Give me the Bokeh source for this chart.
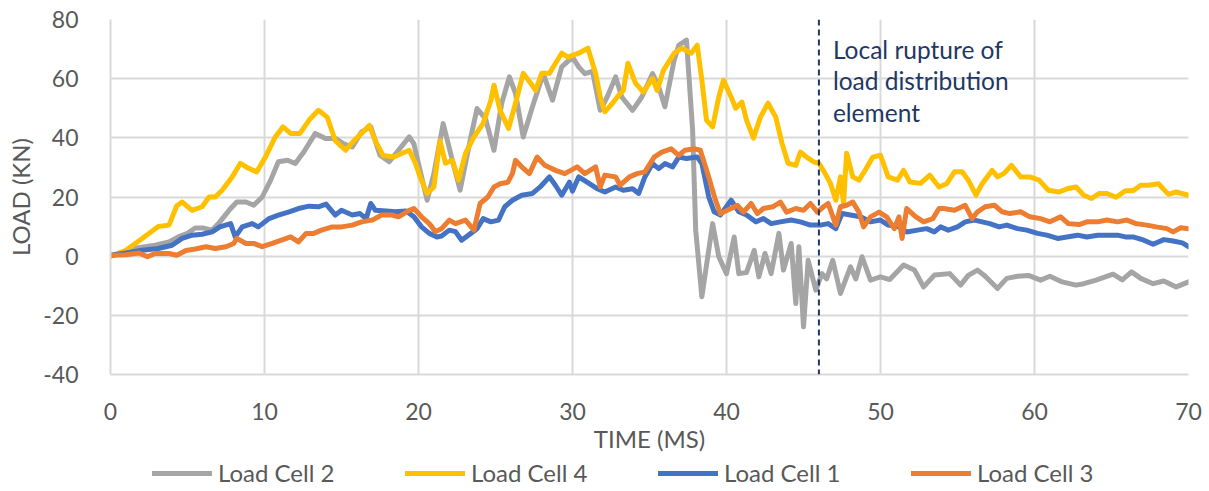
from bokeh.plotting import figure
from bokeh.layouts import column
from bokeh.models import Span, Label, Legend, LegendItem, FixedTicker, Range1d
from bokeh.embed import file_html
from bokeh.resources import INLINE

# ---------------- data ----------------
X_TICKS = [0, 10, 20, 30, 40, 50, 60, 70]
Y_TICKS = [-40, -20, 0, 20, 40, 60, 80]
Y_TICK_TEXT = {-40: "-40", -20: "-20"}
X_LABEL = "TIME (MS)"
Y_LABEL = "LOAD (KN)"
RUPTURE_T = 46.0
RUPTURE_TEXT = "Local rupture of\nload distribution\nelement"

# Load Cell 2 (grey)
T2 = [0, 0.8, 1.6, 2.9, 3.8, 4.4, 5.0, 5.5, 6.05, 6.6,
      7.1, 7.7, 8.2, 8.8, 9.3, 9.85, 10.4, 10.9, 11.5, 12.0,
      12.55, 13.3, 13.96, 14.6, 15.15, 15.7, 16.3, 16.9, 17.5, 18.1,
      18.7, 19.4, 19.7, 20.1, 20.56, 21.0, 21.6, 22.2, 22.7, 23.4,
      23.8, 24.35, 24.9, 25.4, 25.9, 26.3, 26.8, 27.4, 28.1, 28.7,
      29.3, 30.0, 30.4, 30.8, 31.3, 31.8, 32.25, 32.8, 33.2, 33.9,
      34.5, 35.2, 35.6, 36.0, 36.6, 36.9, 37.4, 37.8, 38.0, 38.4,
      39.1, 39.5, 40.0, 40.5, 40.8, 41.3, 41.8, 42.1, 42.5, 42.9,
      43.4, 43.7, 44.2, 44.5, 44.7, 45.0, 45.3, 45.8, 46.2, 46.5,
      46.9, 47.4, 48.05, 48.4, 48.8, 49.35, 50.0, 50.6, 51.5, 52.2,
      52.8, 53.5, 54.5, 55.2, 55.7, 56.3, 56.8, 57.6, 58.2, 58.9,
      59.6, 60.4, 61.0, 61.8, 62.7, 63.2, 64.0, 65.1, 65.7, 66.3,
      66.9, 67.7, 68.4, 69.2, 70.0]
V2 = [0, 1.2, 2.7, 3.7, 4.8, 6.5, 7.7, 9.5, 9.5, 8.8,
      11.6, 15.5, 18.3, 18.3, 17.2, 20.0, 25.7, 31.9, 32.4, 31.3,
      35.2, 41.5, 39.8, 39.8, 38.0, 36.9, 42.0, 43.7, 34.1, 31.9,
      35.8, 40.3, 38.0, 29.0, 18.9, 27.9, 44.8, 32.4, 22.3, 40.3,
      49.9, 46.5, 35.8, 51.6, 60.6, 55.0, 40.3, 50.5, 61.7, 52.7,
      64.0, 67.3, 64.0, 61.7, 62.5, 49.3, 53.8, 60.6, 53.8, 49.3,
      53.8, 61.7, 57.2, 50.5, 66.2, 71.3, 73.0, 42.6, 8.8, -13.7,
      11.0, -0.2, -5.9, 6.5, -5.9, -5.5, 2.0, -7.0, 0.9, -5.9,
      7.7, -4.7, 4.3, -16.0, 3.2, -23.9, -1.4, -11.5, -5.9, -7.7,
      -1.4, -12.6, -3.6, -7.7, -0.2, -8.1, -7.0, -7.9, -3.0, -4.7,
      -10.4, -6.4, -5.9, -9.8, -6.5, -4.7, -6.8, -10.9, -7.5, -6.8,
      -6.5, -8.1, -6.8, -8.7, -9.8, -9.3, -8.1, -6.1, -8.0, -5.3,
      -7.5, -9.3, -8.4, -10.4, -8.7]

# Load Cell 4 (yellow)
T4 = [0, 1.0, 2.06, 3.1, 3.8, 4.3, 4.65, 5.3, 5.95, 6.4,
      6.8, 7.25, 7.9, 8.44, 8.97, 9.5, 10.06, 10.7, 11.2, 11.7,
      12.3, 12.9, 13.5, 14.07, 14.6, 15.26, 15.8, 16.3, 16.8, 17.2,
      17.7, 18.4, 18.9, 19.4, 19.8, 20.1, 20.56, 21.0, 21.4, 21.75,
      22.2, 22.6, 23.05, 23.6, 24.2, 24.7, 24.9, 25.3, 25.85, 26.3,
      26.8, 27.3, 27.6, 28.0, 28.5, 28.9, 29.3, 29.7, 30.4, 31.0,
      31.5, 31.8, 32.1, 32.6, 33.0, 33.3, 33.6, 34.1, 34.6, 35.2,
      35.5, 35.9, 36.6, 37.1, 37.7, 38.1, 38.4, 38.7, 39.1, 39.5,
      39.8, 40.3, 40.6, 41.0, 41.3, 41.75, 42.2, 42.7, 43.2, 43.6,
      44.0, 44.5, 44.8, 45.2, 45.65, 46.0, 46.4, 46.75, 47.1, 47.4,
      47.6, 47.8, 48.2, 48.6, 49.0, 49.5, 50.0, 50.5, 51.1, 51.5,
      51.9, 52.6, 53.2, 53.8, 54.3, 54.8, 55.3, 55.7, 56.2, 56.6,
      57.25, 57.6, 58.0, 58.5, 59.1, 59.7, 60.3, 60.9, 61.6, 62.2,
      62.7, 63.2, 63.7, 64.2, 64.7, 65.3, 65.9, 66.4, 66.9, 67.4,
      68.05, 68.7, 69.2, 70.0]
V4 = [0, 2.0, 6.0, 10.0, 10.5, 17.0, 18.3, 15.5, 16.7, 20.0,
      20.0, 22.3, 26.8, 31.4, 29.7, 28.5, 33.5, 40.3, 43.7, 41.5,
      41.5, 46.0, 49.3, 47.0, 39.0, 35.8, 39.0, 41.5, 44.2, 39.0,
      34.0, 33.5, 34.7, 35.8, 31.4, 26.8, 21.2, 23.4, 39.0, 31.4,
      32.4, 25.7, 34.7, 40.3, 44.9, 52.7, 57.8, 49.3, 43.2, 51.7,
      61.8, 58.4, 56.0, 61.8, 61.8, 65.2, 68.6, 67.3, 68.6, 70.3,
      61.8, 53.8, 48.8, 51.7, 54.4, 56.0, 65.2, 58.4, 55.5, 60.1,
      56.0, 62.8, 68.6, 70.3, 68.6, 71.3, 59.5, 46.0, 43.7, 53.8,
      59.5, 53.8, 50.0, 52.1, 46.0, 39.9, 47.0, 51.7, 47.0, 38.2,
      31.4, 30.7, 35.2, 33.5, 31.9, 31.4, 28.0, 24.6, 18.9, 26.8,
      17.9, 34.8, 26.8, 25.7, 29.0, 33.5, 34.1, 26.8, 25.7, 29.0,
      25.1, 24.6, 27.4, 23.4, 24.5, 28.5, 28.5, 25.7, 20.6, 24.5,
      29.0, 26.8, 27.9, 30.7, 26.8, 26.8, 25.7, 22.3, 21.7, 22.9,
      23.4, 20.6, 19.5, 21.2, 21.2, 19.9, 22.1, 22.1, 24.0, 24.0,
      24.5, 20.9, 21.7, 20.6]

# Load Cell 1 (blue)
T1 = [0, 1.0, 2.06, 3.1, 4.0, 4.65, 5.3, 5.95, 6.6, 7.1,
      7.8, 8.1, 8.55, 9.2, 9.6, 10.3, 10.9, 11.6, 12.2, 12.9,
      13.5, 14.0, 14.6, 15.0, 15.7, 16.2, 16.6, 16.9, 17.2, 17.9,
      18.5, 19.2, 19.7, 20.2, 20.7, 21.2, 21.5, 22.0, 22.4, 22.8,
      23.4, 23.8, 24.2, 24.7, 25.2, 25.6, 26.1, 26.7, 27.4, 27.9,
      28.5, 28.9, 29.3, 29.8, 30.0, 30.4, 31.1, 31.6, 32.1, 32.8,
      33.3, 33.9, 34.3, 34.7, 35.2, 35.6, 36.0, 36.5, 36.9, 37.4,
      38.1, 38.4, 38.85, 39.2, 39.6, 40.3, 40.8, 41.3, 41.9, 42.4,
      42.9, 43.5, 44.2, 44.8, 45.45, 46.1, 46.6, 47.1, 47.5, 48.05,
      48.7, 49.35, 50.0, 50.5, 51.2, 51.7, 52.4, 53.0, 53.5, 53.9,
      54.4, 55.0, 55.5, 56.1, 56.6, 57.1, 57.7, 58.2, 58.9, 59.5,
      60.2, 60.8, 61.5, 62.1, 62.8, 63.4, 64.1, 64.7, 65.4, 65.9,
      66.4, 67.1, 67.7, 68.4, 69.0, 69.6, 70.0]
V1 = [0.3, 1.1, 2.0, 2.6, 3.7, 6.0, 7.1, 7.4, 8.2, 9.9,
      11.0, 6.5, 9.9, 11.0, 9.9, 12.7, 13.9, 15.0, 16.1, 16.9,
      16.7, 17.6, 13.9, 15.5, 13.9, 14.4, 12.7, 17.8, 15.5, 15.3,
      15.0, 15.3, 13.3, 9.9, 7.7, 6.5, 6.8, 8.8, 8.3, 5.4,
      7.7, 9.3, 12.7, 11.6, 12.2, 16.7, 18.9, 20.6, 21.2, 23.4,
      26.8, 23.9, 20.6, 25.0, 22.0, 26.8, 24.5, 22.8, 21.7, 23.4,
      22.3, 22.8, 21.2, 26.8, 31.3, 29.6, 31.3, 30.2, 33.5, 33.0,
      33.5, 31.3, 20.0, 15.0, 13.9, 18.9, 15.0, 13.9, 11.6, 12.7,
      11.0, 11.6, 12.2, 11.6, 10.5, 10.5, 11.0, 9.3, 14.4, 13.9,
      13.3, 11.6, 12.2, 10.5, 9.9, 8.2, 8.8, 9.3, 8.2, 9.9,
      8.8, 9.9, 11.6, 12.2, 11.6, 11.0, 9.9, 10.5, 9.3, 8.8,
      7.7, 7.1, 6.0, 6.5, 7.1, 6.5, 7.1, 7.1, 7.1, 6.5,
      6.5, 5.4, 4.0, 5.6, 5.1, 4.5, 3.2]

# Load Cell 3 (orange)
T3 = [0, 1.0, 1.85, 2.4, 2.9, 3.8, 4.3, 4.9, 5.5, 6.2,
      6.8, 7.5, 8.0, 8.2, 8.8, 9.3, 9.85, 10.5, 11.1, 11.7,
      12.2, 12.7, 13.2, 13.7, 14.4, 15.0, 15.7, 16.3, 17.0, 17.6,
      18.3, 18.7, 19.4, 19.7, 20.2, 20.7, 21.1, 21.5, 22.0, 22.4,
      23.05, 23.6, 24.0, 24.5, 24.9, 25.3, 25.8, 26.1, 26.3, 26.7,
      27.2, 27.7, 28.2, 28.9, 29.5, 30.3, 30.8, 31.5, 31.8, 32.1,
      32.8, 33.1, 33.7, 34.2, 34.7, 35.3, 35.8, 36.4, 36.9, 37.3,
      37.9, 38.3, 38.8, 39.25, 39.6, 40.3, 40.7, 41.1, 41.6, 42.0,
      42.4, 43.0, 43.5, 43.9, 44.5, 45.0, 45.45, 45.9, 46.3, 46.6,
      47.1, 47.4, 47.8, 48.2, 48.6, 48.9, 49.35, 49.9, 50.4, 50.9,
      51.2, 51.4, 51.7, 52.3, 52.8, 53.4, 53.8, 54.1, 54.8, 55.5,
      55.95, 56.3, 56.8, 57.4, 57.9, 58.4, 59.1, 59.7, 60.4, 61.0,
      61.7, 62.2, 62.9, 63.4, 64.1, 64.7, 65.4, 66.0, 66.6, 67.3,
      67.9, 68.6, 69.0, 69.5, 70.0]
V3 = [0.3, 0.5, 1.1, -0.2, 0.9, 0.9, 0.3, 1.9, 2.4, 3.2,
      2.6, 3.2, 4.3, 6.0, 4.3, 4.3, 3.2, 4.3, 5.4, 6.5,
      4.8, 7.7, 7.7, 8.8, 9.9, 9.9, 10.5, 11.6, 12.2, 13.9,
      13.9, 13.3, 15.5, 16.1, 13.3, 11.0, 8.3, 9.3, 12.2, 11.0,
      12.2, 8.8, 17.8, 20.0, 23.4, 24.5, 25.0, 27.9, 32.4, 30.2,
      27.9, 33.5, 30.7, 29.0, 27.9, 30.2, 27.9, 30.2, 23.4, 27.4,
      26.8, 24.0, 26.8, 27.9, 28.5, 33.5, 35.2, 36.3, 34.1, 35.8,
      36.3, 35.8, 27.5, 19.5, 14.4, 16.1, 17.2, 14.9, 17.8, 14.4,
      16.1, 16.7, 18.3, 14.9, 16.1, 15.5, 17.8, 14.9, 16.7, 17.8,
      10.5, 16.7, 17.2, 18.3, 14.9, 9.9, 13.3, 14.9, 13.3, 9.3,
      13.3, 6.0, 16.1, 13.3, 11.6, 12.7, 16.1, 16.1, 15.5, 17.2,
      12.7, 15.0, 16.7, 17.2, 15.0, 14.4, 15.0, 13.3, 12.7, 11.6,
      13.3, 11.0, 10.7, 11.6, 11.6, 12.2, 11.6, 12.2, 11.0, 10.5,
      9.9, 9.3, 8.2, 9.6, 9.3]

SERIES = [
    ("Load Cell 2", T2, V2, "#A5A5A5"),
    ("Load Cell 4", T4, V4, "#FFC000"),
    ("Load Cell 1", T1, V1, "#4472C4"),
    ("Load Cell 3", T3, V3, "#ED7D31"),
]

# ---------------- styling ----------------
FONT = "Lato"
TEXT_COLOR = "#595959"
GRID_COLOR = "#D9D9D9"
NOTE_COLOR = "#1F3864"
LINE_W = 5

p = figure(width=1209, height=458, output_backend="svg", toolbar_location=None,
           x_range=Range1d(X_TICKS[0], X_TICKS[-1]), y_range=Range1d(Y_TICKS[0], Y_TICKS[-1]),
           min_border_left=110, min_border_right=21, min_border_top=19, min_border_bottom=84)
p.outline_line_color = None
p.background_fill_color = "white"
p.border_fill_color = "white"

p.xaxis.ticker = FixedTicker(ticks=X_TICKS)
p.yaxis.ticker = FixedTicker(ticks=Y_TICKS)
p.yaxis.major_label_overrides = Y_TICK_TEXT
p.xgrid.ticker = FixedTicker(ticks=X_TICKS)
p.ygrid.ticker = FixedTicker(ticks=Y_TICKS)
for g in (p.xgrid, p.ygrid):
    g.grid_line_color = GRID_COLOR
    g.grid_line_width = 2

for ax in (p.xaxis, p.yaxis):
    ax.axis_line_color = GRID_COLOR
    ax.axis_line_width = 2
    ax.major_tick_line_color = None
    ax.minor_tick_line_color = None
    ax.major_label_text_font = FONT
    ax.major_label_text_font_size = "23px"
    ax.major_label_text_color = TEXT_COLOR
    ax.axis_label_text_font = FONT
    ax.axis_label_text_font_size = "24px"
    ax.axis_label_text_font_style = "normal"
    ax.axis_label_text_color = TEXT_COLOR

p.xaxis.axis_label = X_LABEL
p.yaxis.axis_label = Y_LABEL
p.xaxis.major_label_standoff = 22
p.xaxis.axis_label_standoff = 1
p.yaxis.major_label_standoff = 26
p.yaxis.axis_label_standoff = 5

for name, t, v, color in SERIES:
    p.line(t, v, line_color=color, line_width=LINE_W, line_join="round", line_cap="round")

p.add_layout(Span(location=RUPTURE_T, dimension="height", line_color=NOTE_COLOR,
                  line_dash="6 4", line_width=2))
p.add_layout(Label(x=RUPTURE_T, y=Y_TICKS[-1], x_offset=14, y_offset=-15,
                   text=RUPTURE_TEXT, text_font=FONT, text_font_size="24.5px",
                   text_color=NOTE_COLOR, text_baseline="top", text_align="left",
                   text_line_height=1.1))

# ---------------- legend strip (separate figure below the chart) ----------------
# the strip's ranges lie outside the data, so its series only feed the legend swatches
leg = figure(width=1209, height=33, output_backend="svg", toolbar_location=None,
             x_range=Range1d(-1000, -999), y_range=Range1d(-1000, -999),
             min_border_left=0, min_border_right=0, min_border_top=0, min_border_bottom=0)
leg.axis.visible = False
leg.grid.visible = False
leg.outline_line_color = None

items = []
for name, t, v, color in SERIES:
    r = leg.line(t, v, line_color=color, line_width=LINE_W, line_cap="round")
    items.append(LegendItem(label=name, renderers=[r]))

legend = Legend(items=items, orientation="horizontal", location=(42, 4),
                glyph_width=60, glyph_height=20, label_standoff=6, label_width=179,
                spacing=8, padding=0, margin=0, border_line_color=None,
                background_fill_alpha=0, label_text_font=FONT,
                label_text_font_size="24px", label_text_color=TEXT_COLOR)
leg.add_layout(legend)

layout = column(p, leg, spacing=0)
open("out.html", "w").write(file_html(layout, INLINE))
